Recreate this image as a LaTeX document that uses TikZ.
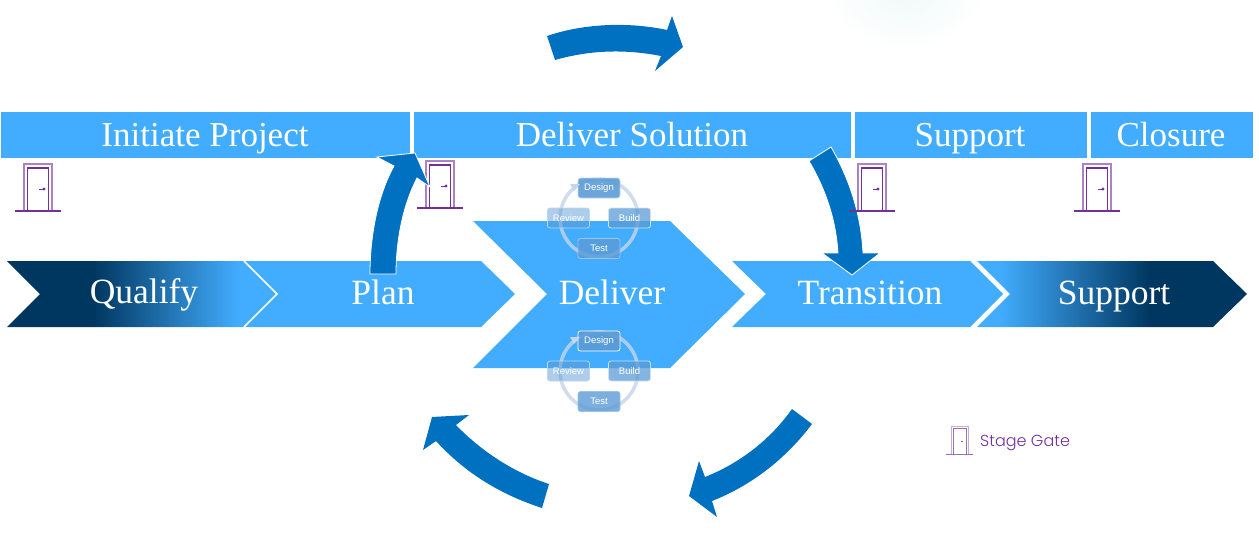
\documentclass[tikz,border=0pt]{standalone}
\usepackage{fontspec}
\setmainfont{Liberation Serif}
\newfontfamily\legendfont{Poppins Light}
\newfontfamily\cyclefont{Liberation Sans}
\usepackage{xcolor}
\definecolor{BarBlue}{HTML}{42ADFF}
\definecolor{ArrowBlue}{HTML}{0070C0}
\definecolor{NavyDeep}{HTML}{003760}
\definecolor{GatePurple}{HTML}{7030A0}
\definecolor{StepBlue}{HTML}{5B9BD5}
\definecolor{RingBlue}{HTML}{C5D5EA}
\definecolor{GlowTint}{HTML}{F0F9F9}
\usetikzlibrary{positioning}
\pgfdeclarehorizontalshading{qualifyfade}{100bp}{color(0bp)=(NavyDeep); color(41bp)=(NavyDeep); color(68bp)=(BarBlue); color(100bp)=(BarBlue)}
\pgfdeclarehorizontalshading{supportfade}{100bp}{color(0bp)=(BarBlue); color(29bp)=(BarBlue); color(57bp)=(NavyDeep); color(100bp)=(NavyDeep)}
\tikzset{
  gate/.pic={
    \draw[GatePurple, line width=1.2pt, opacity=0.6] (-14,47) -- (-14,0) -- (14,0) -- (14,47);
    \draw[GatePurple, line width=1.2pt] (-23,47) -- (23,47);
    \draw[GatePurple, line width=1.2pt] (-10.5,47) -- (-10.5,4) -- (10.5,4) -- (10.5,47);
    \draw[GatePurple, line width=1pt] (1,25) -- (6,25);
    \fill[GatePurple] (6,25) circle (1.7);
  },
  smallgate/.pic={
    \draw[GatePurple, line width=0.9pt, opacity=0.4] (-8.5,28) -- (-8.5,0) -- (8.5,0) -- (8.5,28);
    \draw[GatePurple, line width=0.9pt, opacity=0.7] (-13.5,28) -- (13.5,28);
    \draw[GatePurple, line width=0.9pt, opacity=0.7] (-6.5,28) -- (-6.5,2.5) -- (6.5,2.5) -- (6.5,28);
    \draw[GatePurple, line width=0.9pt, opacity=0.8] (1,15) -- (3.5,15);
  },
  stepcycle/.pic={
    \draw[RingBlue, line width=3.5pt, opacity=0.8] (0,0) circle (39);
    \node[stepnode, fill opacity=0.9, draw=#1] (-design) at (0,-30) {Design};
    \node[stepnode, fill opacity=0.75, draw=white!70!StepBlue] (-build) at (30.5,0) {Build};
    \node[stepnode, fill opacity=0.8, draw=white!40!StepBlue] (-test) at (0,30.5) {Test};
    \node[stepnode, fill opacity=0.5, draw=white!60!StepBlue] (-review) at (-30.5,0) {Review};
    \fill[RingBlue] (-19,-34) -- (-25,-27) -- (-29,-34) -- cycle;
  }
}
\begin{document}
\begin{tikzpicture}[
    x=1pt, y=-1pt,
    barbox/.style={fill=BarBlue, minimum height=46pt, inner sep=0pt, anchor=north west},
    barlabel/.style={text=white, font=\fontsize{35}{35}\selectfont, inner sep=0pt, anchor=base},
    steplabel/.style={text=white, font=\fontsize{35.5}{35.5}\selectfont, inner sep=0pt, anchor=base},
    stepnode/.style={fill=StepBlue, rounded corners=2.5pt, line width=0.8pt, minimum width=42pt, minimum height=20pt, inner sep=0pt, text=white, text opacity=1, font=\cyclefont\fontsize{9.5}{9.5}\selectfont},
    blockarrow/.style={fill=ArrowBlue, draw=white, line width=0.8pt}
]
\useasboundingbox (0,0) rectangle (1259,535);
% glow at the top edge
\begin{scope}
\clip (0,0) rectangle (1259,535);
\shade[inner color=GlowTint, outer color=white] (905,-8) ellipse (78 and 58);
\end{scope}
% bars
\node[barbox, minimum width=409pt] (initiate) at (1,112) {};
\node[barbox, minimum width=437pt] (solution) at (414,112) {};
\node[barbox, minimum width=232pt] (support top) at (855,112) {};
\node[barbox, minimum width=162pt] (closure) at (1091,112) {};
\node[barlabel] (initiate text) at (205,146) {Initiate Project};
\node[barlabel] (solution text) at (632,146) {Deliver Solution};
\node[barlabel] (support top text) at (970,146) {Support};
\node[barlabel] (closure text) at (1171,146) {Closure};
% chevrons
\fill[BarBlue] (244,261) -- (481,261) -- (515,294) -- (481,327) -- (244,327) -- (277,294) -- cycle;
\shade[shading=qualifyfade] (7,261) -- (244,261) -- (277,294) -- (244,327) -- (7,327) -- (40,294) -- cycle;
\draw[white, line width=1.5pt] (244,261) -- (277,294) -- (244,327);
\fill[BarBlue] (473,221) -- (670,221) -- (745,294) -- (670,368) -- (473,368) -- (547,294) -- cycle;
\fill[BarBlue] (732,261) -- (970,261) -- (1003,294) -- (970,327) -- (732,327) -- (766,294) -- cycle;
\shade[shading=supportfade] (977,261) -- (1213,261) -- (1247,294) -- (1213,327) -- (977,327) -- (1010,294) -- cycle;
\node[steplabel] (qualify) at (144,303) {Qualify};
\node[steplabel] (plan) at (383,304) {Plan};
\node[steplabel] (deliver) at (612,304) {Deliver};
\node[steplabel] (transition) at (870,304) {Transition};
\node[steplabel] (support) at (1114,304) {Support};
% design cycles
\pic (upper) at (599,218) {stepcycle=white!60!StepBlue};
\pic (lower) at (599,371) {stepcycle=white};
% arrow into transition sits under the gates
\draw[blockarrow] (809,161) -- (831,147) .. controls (850,180) and (861,215) .. (863,253) -- (880,253) -- (852,275) -- (822,253) -- (838,253) .. controls (836,220) and (826,190) .. (809,161) -- cycle;
% gates
\foreach \gx/\gy in {38/164, 440/161, 872/164, 1097/164}
  \pic at (\gx,\gy) {gate};
\pic at (959.5,426) {smallgate};
\node[text=GatePurple, font=\legendfont\fontsize{16}{16}\selectfont, anchor=base west, inner sep=0pt] (legend) at (980,446) {Stage Gate};
% block arrows
\fill[ArrowBlue] (547,36) .. controls (585,23) and (630,22) .. (667,30) -- (672,16) -- (683,47) -- (655,71) -- (661,56) .. controls (625,49) and (590,50) .. (555,60) -- cycle;
\draw[blockarrow] (370,274) .. controls (370,235) and (378,195) .. (394,166) -- (377,157) -- (415,153) -- (430,187) -- (417,178) .. controls (403,205) and (396,240) .. (396,274) -- cycle;
\fill[ArrowBlue] (792,409) -- (812,424) .. controls (785,460) and (750,486) .. (712,501) -- (717,517) -- (689,496) -- (699,461) -- (705,477) .. controls (740,463) and (770,440) .. (792,409) -- cycle;
\fill[ArrowBlue] (549,484) -- (542,508) .. controls (502,495) and (466,474) .. (436,441) -- (423,450) -- (432,417) -- (469,415) -- (456,425) .. controls (482,452) and (515,473) .. (549,484) -- cycle;
\end{tikzpicture}
\end{document}
